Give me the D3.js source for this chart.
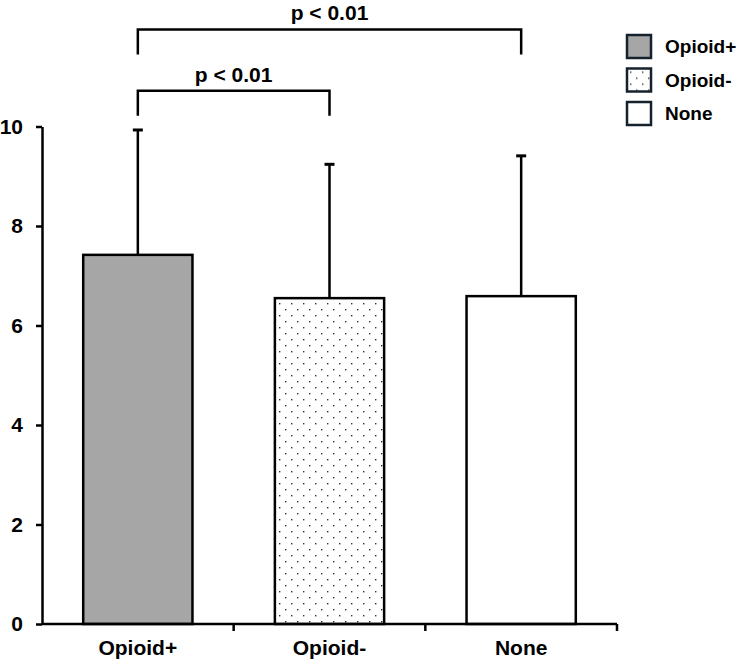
<!DOCTYPE html>
<meta charset="utf-8">
<head>
    <title></title>
    <script src="https://cdn.jsdelivr.net/npm/d3@7"></script>
</head>

<style>
    body{ margin:0; background:#fff; }
    text{
      font-family: "Liberation Sans", Arial, sans-serif;
      font-weight: bold;
      font-size:21px;
      fill:#000;
    }
</style>
<svg width="744" height="667"></svg>

<script>
    var groups = ['Opioid+', 'Opioid-', 'None'],
        means = [7.42, 6.55, 6.59],
        errs = [2.51, 2.69, 2.82],
        yTicks = [0, 2, 4, 6, 8, 10],
        fills = ['#a6a6a6', 'url(#dots)', '#fff'],
        // significance brackets: [from, to, label]
        sig = [['Opioid+', 'None', 'p < 0.01'], ['Opioid+', 'Opioid-', 'p < 0.01']],
        sigY = [10.0 + 1.95, 10.0 + 0.72];

    var svg = d3.select('svg');

    // dotted fill for Opioid-
    var pat = svg.append('defs').append('pattern')
        .attr('id', 'dots')
        .attr('patternUnits', 'userSpaceOnUse')
        .attr('width', 12).attr('height', 12);
    pat.append('rect').attr('width', 12).attr('height', 12).attr('fill', '#fff');
    pat.append('rect').attr('x', 3).attr('y', 3).attr('width', 1.4).attr('height', 1.4).attr('fill', '#333');
    pat.append('rect').attr('x', 9).attr('y', 9).attr('width', 1.4).attr('height', 1.4).attr('fill', '#333');

    var x = d3.scaleBand().domain(groups).range([42, 617]).paddingInner(0.43).paddingOuter(0.215),
        y = d3.scaleLinear().domain([0, 10]).range([624, 126.5]);

    var g = svg.append('g');

    // bars
    g.selectAll('rect.bar').data(groups).enter().append('rect')
        .attr('class', 'bar')
        .attr('x', function(d){ return x(d); })
        .attr('width', x.bandwidth())
        .attr('y', function(d, i){ return y(means[i]); })
        .attr('height', function(d, i){ return y(0) - y(means[i]); })
        .attr('fill', function(d, i){ return fills[i]; })
        .attr('stroke', '#000')
        .attr('stroke-width', 2.5);

    // error bars (upper only)
    var eb = g.selectAll('g.err').data(groups).enter().append('g').attr('class', 'err');
    eb.append('line')
        .attr('x1', function(d){ return x(d) + x.bandwidth() / 2; })
        .attr('x2', function(d){ return x(d) + x.bandwidth() / 2; })
        .attr('y1', function(d, i){ return y(means[i]); })
        .attr('y2', function(d, i){ return y(means[i] + errs[i]); })
        .attr('stroke', '#000').attr('stroke-width', 2.5);
    eb.append('line')
        .attr('x1', function(d){ return x(d) + x.bandwidth() / 2 - 5; })
        .attr('x2', function(d){ return x(d) + x.bandwidth() / 2 + 5; })
        .attr('y1', function(d, i){ return y(means[i] + errs[i]); })
        .attr('y2', function(d, i){ return y(means[i] + errs[i]); })
        .attr('stroke', '#000').attr('stroke-width', 3);

    // y axis
    var yAxis = svg.append('g').attr('transform', 'translate(42,0)')
        .call(d3.axisLeft(y).tickValues(yTicks).tickSize(6).tickPadding(13).tickSizeOuter(0));
    yAxis.select('.domain').attr('stroke-width', 2.5);
    yAxis.selectAll('.tick line').attr('stroke-width', 2.5);
    yAxis.selectAll('text').style('font-size', '21px');

    // x axis with ticks at band boundaries
    var xAxis = svg.append('g').attr('transform', 'translate(0,624)');
    xAxis.append('line').attr('x1', 42).attr('x2', 617).attr('stroke', '#000').attr('stroke-width', 2.5);
    var bounds = groups.map(function(d){ return x(d) + x.bandwidth() + x.step() * x.paddingInner() / 2; });
    xAxis.selectAll('line.tk').data(bounds).enter().append('line')
        .attr('class', 'tk')
        .attr('x1', function(d){ return d; }).attr('x2', function(d){ return d; })
        .attr('y1', 0).attr('y2', 7)
        .attr('stroke', '#000').attr('stroke-width', 2.5);
    xAxis.selectAll('text').data(groups).enter().append('text')
        .attr('x', function(d){ return x(d) + x.bandwidth() / 2; })
        .attr('y', 31)
        .attr('text-anchor', 'middle')
        .text(function(d){ return d; });

    // significance brackets
    sig.forEach(function(s, i){
        var x1 = x(s[0]) + x.bandwidth() / 2,
            x2 = x(s[1]) + x.bandwidth() / 2,
            yy = y(sigY[i]);
        svg.append('path')
            .attr('d', 'M' + x1 + ',' + (yy + 25) + 'V' + yy + 'H' + x2 + 'V' + (yy + 25))
            .attr('fill', 'none').attr('stroke', '#000').attr('stroke-width', 2.5);
        svg.append('text')
            .attr('x', (x1 + x2) / 2).attr('y', yy - 9)
            .attr('text-anchor', 'middle')
            .text(s[2]);
    });

    // legend
    var leg = svg.append('g').attr('transform', 'translate(627,35)');
    var li = leg.selectAll('g').data(groups).enter().append('g')
        .attr('transform', function(d, i){ return 'translate(0,' + (i * 33.5) + ')'; });
    li.append('rect')
        .attr('width', 24).attr('height', 23)
        .attr('fill', function(d, i){ return fills[i]; })
        .attr('stroke', '#15222e').attr('stroke-width', 2.5);
    li.append('text')
        .attr('x', 38).attr('y', 18)
        .style('font-size', '19px')
        .text(function(d){ return d; });
</script>
